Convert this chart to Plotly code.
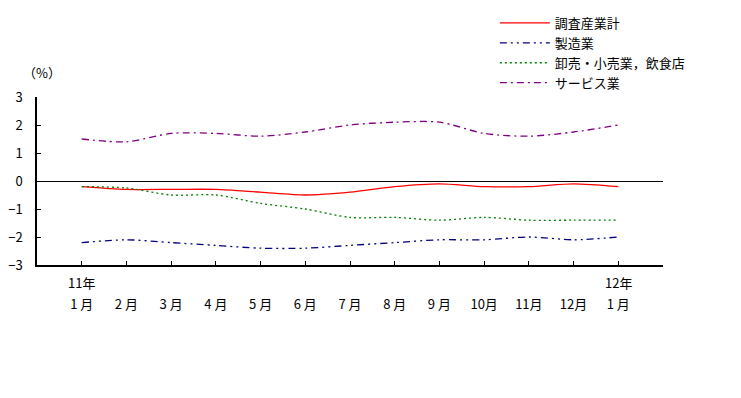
import plotly.graph_objects as go

months = ["1 月", "2 月", "3 月", "4 月", "5 月", "6 月", "7 月", "8 月", "9 月", "10月", "11月", "12月", "1 月"]
year_labels = {0: "11年", 12: "12年"}

total = [-0.2, -0.3, -0.3, -0.3, -0.4, -0.5, -0.4, -0.2, -0.1, -0.2, -0.2, -0.1, -0.2]
manufacturing = [-2.2, -2.1, -2.2, -2.3, -2.4, -2.4, -2.3, -2.2, -2.1, -2.1, -2.0, -2.1, -2.0]
retail = [-0.2, -0.25, -0.5, -0.5, -0.8, -1.0, -1.3, -1.3, -1.4, -1.3, -1.4, -1.4, -1.4]
services = [1.5, 1.4, 1.7, 1.7, 1.6, 1.75, 2.0, 2.1, 2.1, 1.7, 1.6, 1.75, 2.0]

series = [
    ("調査産業計", total, "#ff0000", "solid"),
    ("製造業", manufacturing, "#000080", "7px,4px,2px,4px,2px,4px"),
    ("卸売・小売業，飲食店", retail, "#008000", "2px,3px"),
    ("サービス業", services, "#800080", "7px,4px,2px,4px"),
]

FONT = "Noto Sans CJK JP"
x = list(range(len(months)))

fig = go.Figure()
for name, vals, color, dash in series:
    fig.add_trace(go.Scatter(
        x=x, y=vals, name=name, mode="lines",
        line=dict(color=color, width=1.3, dash=dash, shape="spline", smoothing=0.8),
    ))

fig.update_layout(
    width=741, height=398,
    margin=dict(l=29, r=86, t=89, b=141, autoexpand=False),
    paper_bgcolor="white", plot_bgcolor="white",
    font=dict(family=FONT, size=13, color="black"),
    showlegend=True,
    legend=dict(xref="container", yref="container", x=0.657, y=1.0,
                xanchor="left", yanchor="top",
                font=dict(family=FONT, size=13), tracegroupgap=0,
                itemwidth=50, bgcolor="rgba(0,0,0,0)"),
    xaxis=dict(range=[-1, 13], tickmode="array", tickvals=x, ticktext=months,
               showgrid=False, zeroline=False, showline=True, linecolor="black",
               linewidth=1.5, ticks="inside", ticklen=4, tickcolor="black",
               ticklabelstandoff=27, tickfont=dict(size=13)),
    yaxis=dict(range=[-3, 3], tickvals=[-3, -2, -1, 0, 1, 2, 3],
               ticktext=["−3", "−2", "−1", "0", "1", "2", "3"],
               showgrid=False, zeroline=True, zerolinecolor="black", zerolinewidth=1.3,
               showline=True, linecolor="black", linewidth=1.5,
               ticks="inside", ticklen=4, tickcolor="black",
               ticklabelstandoff=10, tickfont=dict(size=13)),
)

fig.add_annotation(text="（%）", xref="paper", yref="paper", x=0.0, y=1.0,
                   yshift=36, xshift=-16, showarrow=False, font=dict(family=FONT, size=13))
for k, lab in year_labels.items():
    fig.add_annotation(text=lab, x=k, xref="x", yref="paper", y=0, yshift=-29,
                       showarrow=False, font=dict(family=FONT, size=13))

fig.write_html("out.html")
